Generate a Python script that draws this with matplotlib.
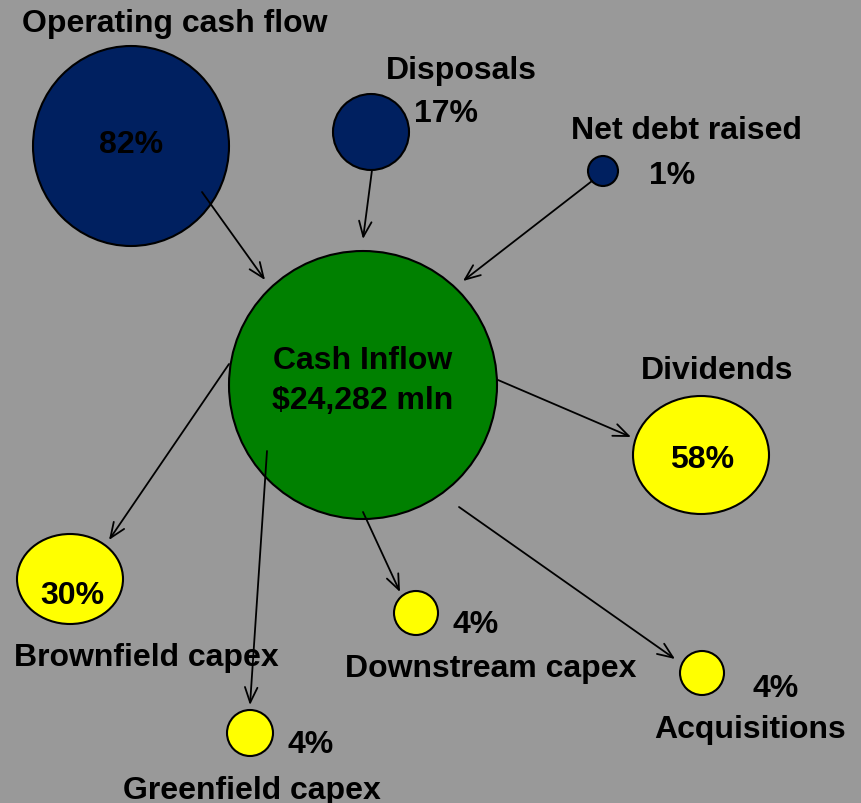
import matplotlib
matplotlib.use("Agg")
import matplotlib.pyplot as plt
from matplotlib.patches import Ellipse

# ---- data ----
total_label = ["Cash Inflow", "$24,282 mln"]
sources = ["Operating cash flow", "Disposals", "Net debt raised"]
source_pct = [82, 17, 1]
uses = ["Dividends", "Brownfield capex", "Greenfield capex", "Downstream capex", "Acquisitions"]
use_pct = [58, 30, 4, 4, 4]

# ---- layout (pixel coordinates, y downward) ----
W, H = 861, 804
BG = "#999999"
NAVY = "#002060"
GREEN = "#008000"
YELLOW = "#FFFF00"

src_geom = [  # cx, cy, rx, ry
    (131, 147, 98, 100),
    (371, 133, 38, 38),
    (603, 172, 15, 15),
]
src_pct_pos = [(131, 142), (446, 111), (672, 173)]
src_lbl_pos = [(175, 21), (461, 68), (686, 128)]
src_arrow = [((202, 193), (265, 281)), ((372, 171), (363, 240)), ((592, 182), (463, 282))]

center_geom = (363, 386, 134, 134)

use_geom = [
    (701, 456, 68, 59),
    (70, 580, 53, 45),
    (250, 734, 23, 23),
    (416, 614, 22, 22),
    (702, 674, 22, 22),
]
use_pct_pos = [(702, 457), (72, 593), (311, 742), (476, 622), (776, 686)]
use_lbl_pos = [(717, 368), (146, 655), (252, 788), (491, 666), (750, 727)]
use_arrow = [((498, 381), (631, 438)), ((229, 365), (109, 541)), ((267, 452), (250, 706)),
             ((363, 513), (400, 593)), ((459, 508), (675, 660))]

FONT = "Liberation Sans"
FS = 23
DY = 3  # baseline tweak

fig = plt.figure(figsize=(W / 100, H / 100), dpi=100, facecolor=BG)
ax = fig.add_axes([0, 0, 1, 1])
ax.set_xlim(0, W)
ax.set_ylim(H, 0)
ax.set_facecolor(BG)
ax.axis("off")


def circle(g, color):
    cx, cy, rx, ry = g
    ax.add_patch(Ellipse((cx, cy), 2 * rx, 2 * ry, facecolor=color, edgecolor="black", lw=1.5, zorder=2))


def arrow(a):
    (x0, y0), (x1, y1) = a
    ax.annotate("", xy=(x1, y1), xytext=(x0, y0),
                arrowprops=dict(arrowstyle="->,head_length=1.1,head_width=0.45", color="black", lw=1.3,
                                shrinkA=0, shrinkB=0), zorder=3)


def text(pos, s):
    ax.text(pos[0], pos[1] + DY, s, ha="center", va="center", fontsize=FS, fontweight="bold",
            family=FONT, color="black", zorder=4)


for i, name in enumerate(sources):
    circle(src_geom[i], NAVY)
    arrow(src_arrow[i])
    text(src_pct_pos[i], f"{source_pct[i]}%")
    text(src_lbl_pos[i], name)

circle(center_geom, GREEN)
text((363, 358), total_label[0])
text((363, 398), total_label[1])

for i, name in enumerate(uses):
    circle(use_geom[i], YELLOW)
    arrow(use_arrow[i])
    text(use_pct_pos[i], f"{use_pct[i]}%")
    text(use_lbl_pos[i], name)

fig.savefig("out.png", dpi=100, facecolor=BG)
